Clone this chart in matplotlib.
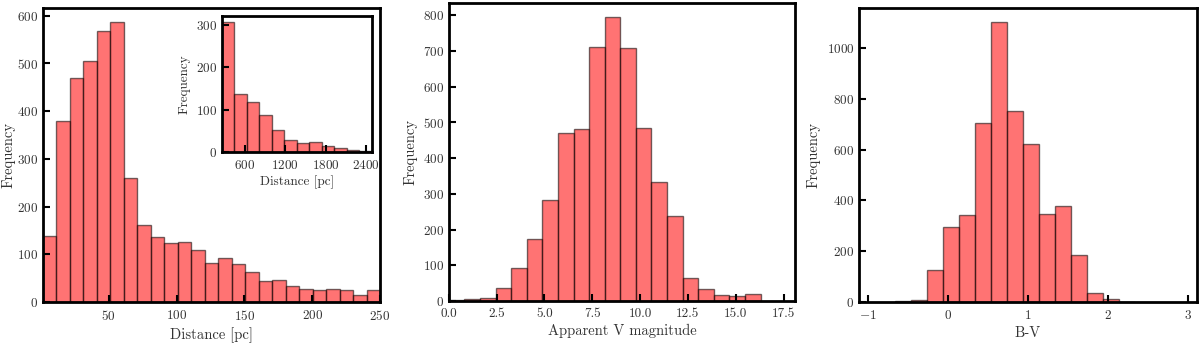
import numpy as np
import matplotlib
matplotlib.use('Agg')
import matplotlib.pyplot as plt

plt.rcParams['font.family'] = 'serif'
plt.rcParams['font.serif'] = ['cmr10']
plt.rcParams['mathtext.fontset'] = 'cm'
plt.rcParams['axes.formatter.use_mathtext'] = True

# distance histogram (pc), 25 bins
dist_range = (1.5, 250.0)
dist_counts = [139, 379, 469, 506, 568, 587, 259, 161, 136, 124, 125, 110, 82,
               92, 80, 62, 44, 46, 34, 28, 26, 28, 25, 14, 26]

# inset: far distances (pc), 12 bins
far_range = (253.0, 2485.0)
far_counts = [307, 136, 119, 87, 51, 27, 21, 23, 14, 8, 4, 1]

# apparent V magnitude, 20 bins
vmag_range = (0.0, 16.3)
vmag_counts = [2, 5, 8, 36, 93, 173, 284, 470, 482, 712, 794, 709, 485, 332,
               237, 64, 33, 17, 14, 20]

# B-V colour, 15 bins
bv_range = (-0.66, 2.34)
bv_counts = [5, 8, 128, 295, 344, 706, 1103, 753, 621, 346, 380, 185, 37, 11, 2]


def draw_hist(ax, rng, counts):
    edges = np.linspace(rng[0], rng[1], len(counts) + 1)
    mids = 0.5 * (edges[:-1] + edges[1:])
    ax.hist(mids, bins=edges, weights=counts, color='red', alpha=0.55,
            edgecolor='black', linewidth=1)
    for s in ax.spines.values():
        s.set_linewidth(2)
    ax.tick_params(direction='in', length=5, width=1.5, labelsize=9.5,
                   labelcolor='#333333')
    ax.tick_params(axis='x', pad=5)


fig = plt.figure(figsize=(12, 3.43), dpi=100)

ax1 = fig.add_axes([0.0358, 0.1195, 0.2809, 0.8572])
draw_hist(ax1, dist_range, dist_counts)
ax1.set_xlim(dist_range)
ax1.set_xticks([50, 100, 150, 200, 250])
ax1.set_yticks(range(0, 601, 100))
ax1.set_xlabel('Distance [pc]', fontsize=10.5, color='#333333', labelpad=3)
ax1.set_ylabel('Frequency', fontsize=10.5, color='#333333', labelpad=1)

ins = fig.add_axes([0.1848, 0.5577, 0.125, 0.3965])
draw_hist(ins, far_range, far_counts)
ins.set_xlim(far_range)
ins.set_xticks([600, 1200, 1800, 2400])
ins.set_yticks([0, 100, 200, 300])
ins.set_xlabel('Distance [pc]', fontsize=9.5, color='#333333', labelpad=3)
ins.set_ylabel('Frequency', fontsize=9.5, color='#333333')

ax2 = fig.add_axes([0.374, 0.1224, 0.2885, 0.8686])
draw_hist(ax2, vmag_range, vmag_counts)
ax2.set_xlim(0, 18.1)
ax2.set_xticks(np.arange(0, 17.6, 2.5))
ax2.xaxis.set_major_formatter(matplotlib.ticker.FormatStrFormatter('%.1f'))
ax2.set_yticks(range(0, 801, 100))
ax2.set_xlabel('Apparent V magnitude', fontsize=10.5, color='#333333', labelpad=3)
ax2.set_ylabel('Frequency', fontsize=10.5, color='#333333')

ax3 = fig.add_axes([0.716, 0.1195, 0.2815, 0.8572])
draw_hist(ax3, bv_range, bv_counts)
ax3.set_xlim(-1.11, 3.11)
ax3.set_xticks([-1, 0, 1, 2, 3])
ax3.set_yticks(range(0, 1001, 200))
ax3.set_xlabel('B-V', fontsize=10.5, color='#333333', labelpad=3)
ax3.set_ylabel('Frequency', fontsize=10.5, color='#333333')

fig.savefig('out.png', dpi=100)
